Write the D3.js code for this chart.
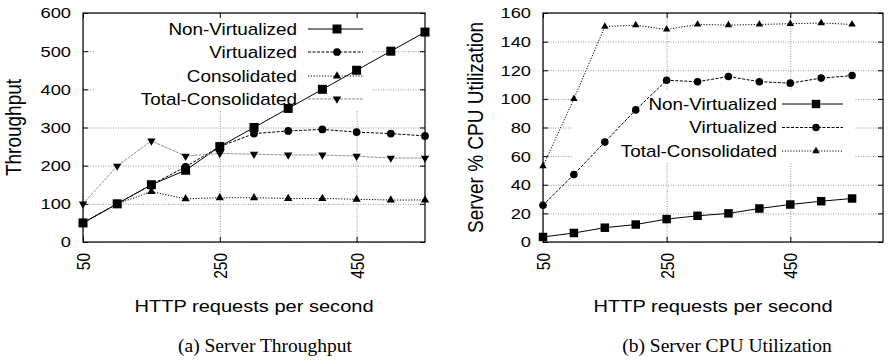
<!DOCTYPE html>
<html lang="en">
<head>
<meta charset="UTF-8">
<title>Server Throughput and CPU Utilization</title>
<script src="https://d3js.org/d3.v7.min.js"></script>
<style>
  body { margin: 0; background: #fff; }
  svg { display: block; font-family: "Liberation Sans", Arial, Helvetica, sans-serif; }
  .grid line { stroke: #959595; stroke-dasharray: 1,1.5; }
  .caption { font-family: "Liberation Serif", "Times New Roman", serif; }
</style>
</head>
<body>
<svg id="chart" width="888" height="364"></svg>
<script>
// HTTP requests per second (x values shared by both panels)
const requests = [50, 100, 150, 200, 250, 300, 350, 400, 450, 500, 550];
const xTickValues = [50, 250, 450];

// (a) Server Throughput
const tpNonVirtualized = [50, 100, 150, 188, 250, 300, 350, 400, 450, 500, 550];
const tpVirtualized = [50, 100, 150, 197, 250, 284, 291, 295, 288, 284, 278];
const tpConsolidated = [50, 100, 132, 113, 116, 116, 114, 114, 112, 110, 110];
const tpTotalConsolidated = [100, 199, 265, 225, 232, 230, 228, 228, 225, 220, 220];
const tpTicks = [0, 100, 200, 300, 400, 500, 600];

// (b) Server CPU Utilization
const cpuNonVirtualized = [3.5, 6.3, 10, 12.2, 16, 18.3, 20, 23.4, 26.2, 28.5, 30.4];
const cpuVirtualized = [25.7, 47.2, 69.8, 92.3, 113, 112, 115.6, 112, 111, 114.5, 116.3];
const cpuTotalConsolidated = [53, 100, 150.5, 151.5, 148.5, 152, 151.5, 152, 152.5, 153, 152];
const cpuTicks = [0, 20, 40, 60, 80, 100, 120, 140, 160];

const svg = d3.select("#chart");
const k = 1.18; // the figure is stretched sideways, so the glyphs are too

const square = d3.symbol().type(d3.symbolSquare);
const circle = d3.symbol().type(d3.symbolCircle);
const triangle = d3.symbol().type(d3.symbolTriangle);

function drawPanel(p) {
  const g = svg.append("g");
  const x = d3.scaleLinear().domain(p.xDomain).range([p.left, p.right]);
  const y = d3.scaleLinear().domain(p.yDomain).range([p.bottom, p.top]);
  const w = p.right - p.left, h = p.bottom - p.top;

  // dotted grid
  g.append("g").attr("class", "grid")
    .attr("transform", `translate(0,${p.bottom})`)
    .call(d3.axisBottom(x).tickValues(xTickValues).tickSize(-h).tickFormat(""))
    .call(a => a.select(".domain").remove());
  g.append("g").attr("class", "grid")
    .attr("transform", `translate(${p.left},0)`)
    .call(d3.axisLeft(y).tickValues(p.yTicks).tickSize(-w).tickFormat(""))
    .call(a => a.select(".domain").remove());

  // opaque key box (over the grid, under the data)
  g.append("rect")
    .attr("x", p.keyBox[0]).attr("y", p.keyBox[1])
    .attr("width", p.keyBox[2]).attr("height", p.keyBox[3])
    .attr("fill", "#fff");

  // axes, ticks pointing inwards and mirrored
  const ax = g.append("g").attr("transform", `translate(0,${p.bottom})`)
    .call(d3.axisBottom(x).tickValues(xTickValues).tickSize(-5));
  ax.selectAll("text")
    .attr("transform", `scale(${k},1) rotate(-90)`)
    .attr("x", -11).attr("y", 0).attr("dy", "0.35em")
    .attr("text-anchor", "end");
  const ay = g.append("g").attr("transform", `translate(${p.left},0)`)
    .call(d3.axisLeft(y).tickValues(p.yTicks).tickSize(-5).tickPadding(12 / k));
  ay.selectAll("text").attr("transform", `scale(${k},1)`);
  g.append("g").attr("transform", `translate(0,${p.top})`)
    .call(d3.axisTop(x).tickValues(xTickValues).tickSize(-5).tickFormat(""));
  g.append("g").attr("transform", `translate(${p.right},0)`)
    .call(d3.axisRight(y).tickValues(p.yTicks).tickSize(-5).tickFormat(""));
  g.selectAll(".tick text").attr("font-size", 15.5).attr("font-family", null).attr("fill", "#000");
  g.selectAll(".tick line").attr("stroke", "#000");
  g.selectAll(".domain").remove();

  g.append("rect")
    .attr("x", p.left).attr("y", p.top).attr("width", w).attr("height", h)
    .attr("fill", "none").attr("stroke", "#000").attr("stroke-width", 1.2);

  // series
  const line = d3.line().x((d, i) => x(requests[i])).y(d => y(d));
  p.series.forEach(s => {
    g.append("path").datum(s.values)
      .attr("d", line)
      .attr("fill", "none")
      .attr("stroke", s.color)
      .attr("stroke-width", 1)
      .attr("stroke-dasharray", s.dash);
    g.selectAll(null).data(s.values).join("path")
      .attr("d", s.symbol.size(s.size)())
      .attr("transform", (d, i) => `translate(${x(requests[i])},${y(d)})${s.flip ? " rotate(180)" : ""}`)
      .attr("fill", "#000");
  });

  // key
  p.series.forEach((s, i) => {
    const ky = p.keyRows[i];
    g.append("text")
      .attr("transform", `translate(${p.keyTextX},${ky}) scale(${k},1)`)
      .attr("dy", "0.36em")
      .attr("text-anchor", "end")
      .attr("font-size", 16)
      .text(s.name);
    g.append("line")
      .attr("x1", p.keyLine[0]).attr("x2", p.keyLine[1])
      .attr("y1", ky).attr("y2", ky)
      .attr("stroke", s.color).attr("stroke-width", 1)
      .attr("stroke-dasharray", s.dash);
    g.append("path")
      .attr("d", s.symbol.size(s.size)())
      .attr("transform", `translate(${p.keyMarkX},${ky})${s.flip ? " rotate(180)" : ""}`)
      .attr("fill", "#000");
  });

  // axis titles and caption
  g.append("text")
    .attr("transform", `translate(${p.yTitleX},${(p.top + p.bottom) / 2}) scale(${k},1) rotate(-90)`)
    .attr("text-anchor", "middle")
    .attr("font-size", 19)
    .text(p.yTitle);
  g.append("text")
    .attr("transform", `translate(${(p.left + p.right) / 2},312) scale(${k},1)`)
    .attr("text-anchor", "middle")
    .attr("font-size", 17)
    .text("HTTP requests per second");
  g.append("text")
    .attr("class", "caption")
    .attr("x", p.captionX).attr("y", 352)
    .attr("text-anchor", "middle")
    .attr("font-size", 19.5)
    .text(p.caption);
}

drawPanel({
  left: 83, right: 425, top: 13, bottom: 242,
  xDomain: [50, 550], yDomain: [0, 600], yTicks: tpTicks,
  yTitle: "Throughput", yTitleX: 21,
  caption: "(a) Server Throughput", captionX: 265,
  keyBox: [95, 14, 278, 96], keyRows: [29, 52, 76, 99],
  keyTextX: 297, keyLine: [308, 363], keyMarkX: 337,
  series: [
    { name: "Non-Virtualized", values: tpNonVirtualized, color: "#000", dash: null, symbol: square, size: 81 },
    { name: "Virtualized", values: tpVirtualized, color: "#000", dash: "3,1.5", symbol: circle, size: 47 },
    { name: "Consolidated", values: tpConsolidated, color: "#000", dash: "1.2,1.6", symbol: triangle, size: 30 },
    { name: "Total-Consolidated", values: tpTotalConsolidated, color: "#8f8f8f", dash: "3,1", symbol: triangle, size: 30, flip: true }
  ]
});

drawPanel({
  left: 543, right: 883, top: 13, bottom: 242,
  xDomain: [50, 600], yDomain: [0, 160], yTicks: cpuTicks,
  yTitle: "Server % CPU Utilization", yTitleX: 482.5,
  caption: "(b) Server CPU Utilization", captionX: 727,
  keyBox: [573, 90, 282, 73], keyRows: [104, 127.5, 151],
  keyTextX: 777, keyLine: [782, 843], keyMarkX: 816,
  series: [
    { name: "Non-Virtualized", values: cpuNonVirtualized, color: "#000", dash: null, symbol: square, size: 72 },
    { name: "Virtualized", values: cpuVirtualized, color: "#000", dash: "3,1.5", symbol: circle, size: 45 },
    { name: "Total-Consolidated", values: cpuTotalConsolidated, color: "#000", dash: "1.2,1.6", symbol: triangle, size: 24 }
  ]
});
</script>
</body>
</html>
